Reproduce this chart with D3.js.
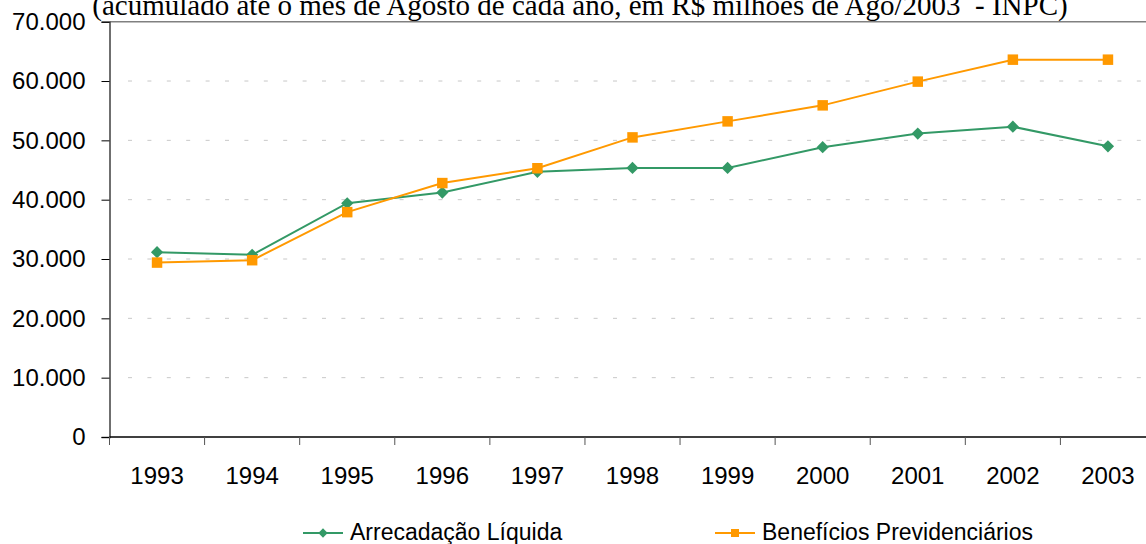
<!DOCTYPE html>
<html lang="pt">
<head>
<meta charset="utf-8">
<title>Arrecadação x Benefícios</title>
<script src="https://cdn.jsdelivr.net/npm/d3@7"></script>
<style>
  body { margin: 0; background: #fff; }
  svg { display: block; }
  text { font-family: "Liberation Sans", Arial, sans-serif; fill: #000; }
</style>
</head>
<body>
<script>
// data (R$ milhões)
var years = ["1993","1994","1995","1996","1997","1998","1999","2000","2001","2002","2003"];
var arrecadacao = [31150, 30700, 39400, 41200, 44700, 45350, 45350, 48850, 51150, 52300, 49000];
var beneficios  = [29400, 29800, 37900, 42800, 45300, 50500, 53200, 55900, 59900, 63600, 63600];
var yTicks = [0, 10000, 20000, 30000, 40000, 50000, 60000, 70000];
var titleText = "(acumulado até o mês de Agosto de cada ano, em R$ milhões de Ago/2003  - INPC)";

var w = 1146, h = 544;
var mLeft = 109.5, mRight = 1155.5, mTop = 21.7, mBottom = 437;

var svg = d3.select("body").append("svg")
  .attr("width", w).attr("height", h);

var x = d3.scaleBand().domain(years).range([mLeft, mRight]);
var y = d3.scaleLinear().domain([0, 70000]).range([mBottom, mTop]);

var fmt = function(d) { return d3.format(",")(d).replace(/,/g, "."); };

// title (cut off at top)
svg.append("text")
  .attr("x", 580).attr("y", 15)
  .attr("text-anchor", "middle")
  .style("font-family", "'Liberation Serif', 'Times New Roman', serif")
  .style("font-size", "29px")
  .style("white-space", "pre")
  .text(titleText);

// gridlines
svg.append("g")
  .selectAll("line")
  .data(yTicks.filter(function(d) { return d > 0 && d < 70000; }))
  .enter().append("line")
  .attr("x1", 128).attr("x2", w)
  .attr("y1", function(d) { return y(d); })
  .attr("y2", function(d) { return y(d); })
  .attr("stroke", "#c8c8c8")
  .attr("stroke-dasharray", "4,15.4");

// top border
svg.append("line")
  .attr("x1", mLeft).attr("x2", w)
  .attr("y1", y(70000)).attr("y2", y(70000))
  .attr("stroke", "#808080").attr("stroke-width", 1.5);

// y axis
var yAxis = svg.append("g")
  .attr("transform", "translate(" + mLeft + ",0)")
  .call(d3.axisLeft(y).tickValues(yTicks).tickFormat(fmt).tickSize(8).tickPadding(16));
yAxis.select(".domain").attr("stroke", "#404040").attr("stroke-width", 1.5);
yAxis.selectAll(".tick line").attr("stroke", "#000");
yAxis.selectAll("text")
  .style("font-size", "24px")
  .attr("font-family", null);

// x axis, ticks between categories
var xAxis = svg.append("g")
  .attr("transform", "translate(0," + mBottom + ")");
xAxis.append("line")
  .attr("x1", mLeft).attr("x2", w)
  .attr("stroke", "#000").attr("stroke-width", 1.5);
xAxis.selectAll(".sep")
  .data(years.concat(["end"]))
  .enter().append("line")
  .attr("x1", function(d, i) { return mLeft + i * x.step(); })
  .attr("x2", function(d, i) { return mLeft + i * x.step(); })
  .attr("y1", 0).attr("y2", 8)
  .attr("stroke", "#555");
xAxis.selectAll(".lbl")
  .data(years)
  .enter().append("text")
  .attr("x", function(d) { return x(d) + x.bandwidth() / 2; })
  .attr("y", 47)
  .attr("text-anchor", "middle")
  .style("font-size", "24px")
  .text(function(d) { return d; });

var cx = function(d, i) { return x(years[i]) + x.bandwidth() / 2; };
var line = d3.line().x(cx).y(function(d) { return y(d); });

var series = [
  { name: "Arrecadação Líquida", values: arrecadacao, color: "#339966", shape: d3.symbolDiamond2, size: 95, legSize: 55, legX: 303 },
  { name: "Benefícios Previdenciários", values: beneficios, color: "#ff9900", shape: d3.symbolSquare, size: 110, legSize: 64, legX: 715 }
];

series.forEach(function(s) {
  svg.append("path")
    .datum(s.values)
    .attr("d", line)
    .attr("fill", "none")
    .attr("stroke", s.color)
    .attr("stroke-width", 2);
  svg.selectAll(null)
    .data(s.values)
    .enter().append("path")
    .attr("d", d3.symbol().type(s.shape).size(s.size))
    .attr("transform", function(d, i) { return "translate(" + cx(d, i) + "," + y(d) + ")"; })
    .attr("fill", s.color);
});

// legend
series.forEach(function(s) {
  var g = svg.append("g").attr("transform", "translate(" + s.legX + ",533)");
  g.append("line").attr("x1", 0).attr("x2", 40)
    .attr("stroke", s.color).attr("stroke-width", 2);
  g.append("path")
    .attr("d", d3.symbol().type(s.shape).size(s.legSize))
    .attr("transform", "translate(20,0)")
    .attr("fill", s.color);
  g.append("text")
    .attr("x", 47).attr("y", 7)
    .style("font-size", "23px")
    .text(s.name);
});
</script>
</body>
</html>
